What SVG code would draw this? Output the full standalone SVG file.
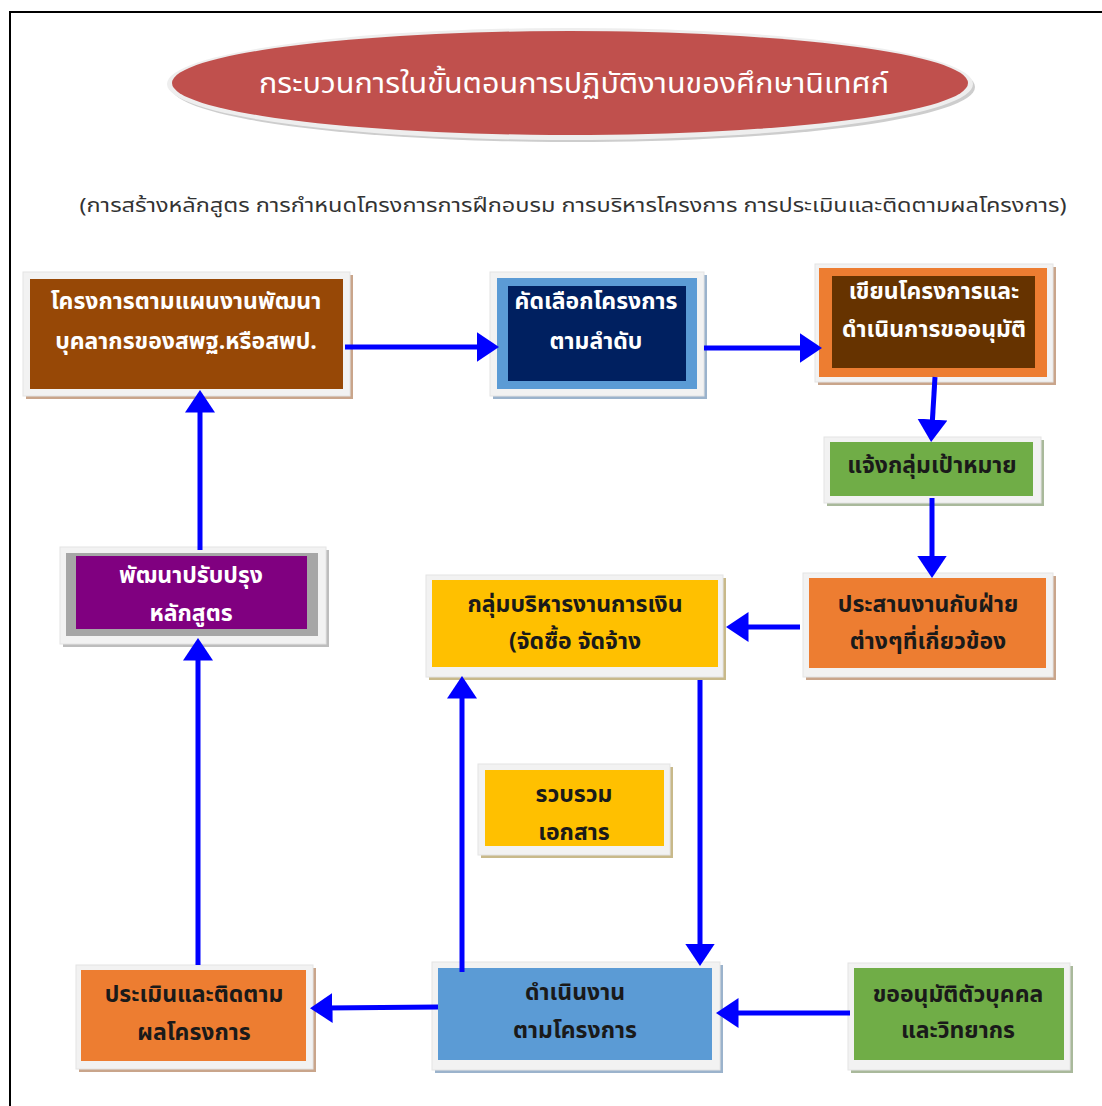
<svg xmlns="http://www.w3.org/2000/svg" width="1102" height="1106" viewBox="0 0 1102 1106">
<style>
text{font-family:"Noto Sans Thai","Noto Sans","Liberation Sans",sans-serif;text-anchor:middle;dominant-baseline:central}
.w{fill:#ffffff;font-weight:bold;font-size:23px}
.d{fill:#1a1a1a;font-weight:bold;font-size:23px}
.fr{fill:#f2f2f2;stroke:#e4e4e4;stroke-width:1}
.ar{stroke:#0000ff;stroke-width:5;fill:none;marker-end:url(#ah)}
</style>
<defs>
<marker id="ah" markerWidth="6" markerHeight="6" refX="1.5" refY="3" orient="auto" markerUnits="strokeWidth" viewBox="0 0 6 6">
<path d="M0,0 L4.5,3 L0,6 Z" fill="#0000ff"/>
</marker>
</defs>
<rect width="1102" height="1106" fill="#ffffff"/>
<path d="M10,1106 V12 H1102" fill="none" stroke="#000" stroke-width="2"/>

<g id="title">
<ellipse cx="573" cy="87" rx="402" ry="55" fill="#b8b8b8" opacity="0.7"/>
<ellipse cx="570" cy="84" rx="403" ry="56" fill="#eeeeee"/>
<ellipse cx="570" cy="83" rx="398" ry="52" fill="#c0504d"/>
<text x="574" y="84" fill="#ffffff" font-size="28" textLength="630" lengthAdjust="spacingAndGlyphs">กระบวนการในขั้นตอนการปฏิบัติงานของศึกษานิเทศก์</text>
</g>

<g id="subtitle">
<text x="573" y="206" fill="#333333" font-size="20" textLength="987" lengthAdjust="spacingAndGlyphs">(การสร้างหลักสูตร การกำหนดโครงการการฝึกอบรม การบริหารโครงการ การประเมินและติดตามผลโครงการ)</text>
</g>

<g id="n1">
<rect x="26" y="275" width="327" height="124" fill="#c9a58b"/>
<rect x="23" y="272" width="327" height="124" class="fr"/>
<rect x="30" y="279" width="313" height="110" fill="#974806"/>
<text x="186" y="302" class="w">โครงการตามแผนงานพัฒนา</text>
<text x="186" y="342" class="w">บุคลากรของสพฐ.หรือสพป.</text>
</g>

<g id="n2">
<rect x="493" y="275" width="214" height="124" fill="#9bb3cc"/>
<rect x="490" y="272" width="214" height="124" class="fr"/>
<rect x="497" y="278" width="200" height="111" fill="#5b9bd5"/>
<rect x="508" y="286" width="178" height="95" fill="#002060"/>
<text x="596" y="302" class="w">คัดเลือกโครงการ</text>
<text x="596" y="342" class="w">ตามลำดับ</text>
</g>

<g id="n3">
<rect x="818" y="267" width="238" height="118" fill="#c9a58b"/>
<rect x="815" y="264" width="238" height="118" class="fr"/>
<rect x="819" y="268" width="228" height="109" fill="#ed7d31"/>
<rect x="832" y="276" width="203" height="92" fill="#663300"/>
<text x="934" y="292" class="w">เขียนโครงการและ</text>
<text x="934" y="330" class="w">ดำเนินการขออนุมัติ</text>
</g>

<g id="n4">
<rect x="827" y="440" width="217" height="66" fill="#a9b99b"/>
<rect x="824" y="437" width="217" height="66" class="fr"/>
<rect x="830" y="442" width="203" height="54" fill="#70ad47"/>
<text x="932" y="466" class="d">แจ้งกลุ่มเป้าหมาย</text>
</g>

<g id="n5">
<rect x="806" y="576" width="250" height="104" fill="#c9a58b"/>
<rect x="803" y="573" width="250" height="104" class="fr"/>
<rect x="809" y="578" width="237" height="90" fill="#ed7d31"/>
<text x="928" y="605" class="d">ประสานงานกับฝ่าย</text>
<text x="928" y="642" class="d">ต่างๆที่เกี่ยวข้อง</text>
</g>

<g id="n6">
<rect x="429" y="578" width="297" height="102" fill="#c8b98a"/>
<rect x="426" y="575" width="297" height="102" class="fr"/>
<rect x="432" y="580" width="286" height="87" fill="#ffc000"/>
<text x="575" y="605" class="d">กลุ่มบริหารงานการเงิน</text>
<text x="575" y="642" class="d">(จัดซื้อ จัดจ้าง</text>
</g>

<g id="n7">
<rect x="63" y="550" width="266" height="97" fill="#bdbdbd"/>
<rect x="60" y="547" width="266" height="97" class="fr"/>
<rect x="66" y="553" width="252" height="83" fill="#a6a6a6"/>
<rect x="76" y="556" width="231" height="73" fill="#800080"/>
<text x="191" y="576" class="w">พัฒนาปรับปรุง</text>
<text x="191" y="614" class="w">หลักสูตร</text>
</g>

<g id="n8">
<rect x="481" y="767" width="192" height="91" fill="#c8b98a"/>
<rect x="478" y="764" width="192" height="91" class="fr"/>
<rect x="485" y="770" width="179" height="76" fill="#ffc000"/>
<text x="574" y="795" class="d">รวบรวม</text>
<text x="574" y="833" class="d">เอกสาร</text>
</g>

<g id="n9">
<rect x="79" y="968" width="237" height="104" fill="#c9a58b"/>
<rect x="76" y="965" width="237" height="104" class="fr"/>
<rect x="81" y="970" width="225" height="91" fill="#ed7d31"/>
<text x="194" y="995" class="d">ประเมินและติดตาม</text>
<text x="194" y="1033" class="d">ผลโครงการ</text>
</g>

<g id="n10">
<rect x="435" y="965" width="288" height="108" fill="#9bb3cc"/>
<rect x="432" y="962" width="288" height="108" class="fr"/>
<rect x="438" y="968" width="274" height="92" fill="#5b9bd5"/>
<text x="575" y="993" class="d">ดำเนินงาน</text>
<text x="575" y="1031" class="d">ตามโครงการ</text>
</g>

<g id="n11">
<rect x="851" y="966" width="222" height="107" fill="#a9b99b"/>
<rect x="848" y="963" width="222" height="107" class="fr"/>
<rect x="854" y="968" width="210" height="92" fill="#70ad47"/>
<text x="958" y="995" class="d">ขออนุมัติตัวบุคคล</text>
<text x="958" y="1031" class="d">และวิทยากร</text>
</g>

<g id="connectors">
<line x1="345" y1="347" x2="484" y2="347" class="ar"/>
<line x1="704" y1="348" x2="807" y2="348" class="ar"/>
<line x1="935" y1="377" x2="932" y2="427" class="ar"/>
<line x1="932" y1="498" x2="932" y2="563" class="ar"/>
<line x1="800" y1="627" x2="741" y2="627" class="ar"/>
<line x1="700" y1="680" x2="700" y2="951" class="ar"/>
<line x1="462" y1="972" x2="462" y2="691" class="ar"/>
<line x1="850" y1="1013" x2="731" y2="1013" class="ar"/>
<line x1="438" y1="1007" x2="325" y2="1008" class="ar"/>
<line x1="198" y1="965" x2="198" y2="653" class="ar"/>
<line x1="200" y1="550" x2="200" y2="405" class="ar"/>
</g>
</svg>
